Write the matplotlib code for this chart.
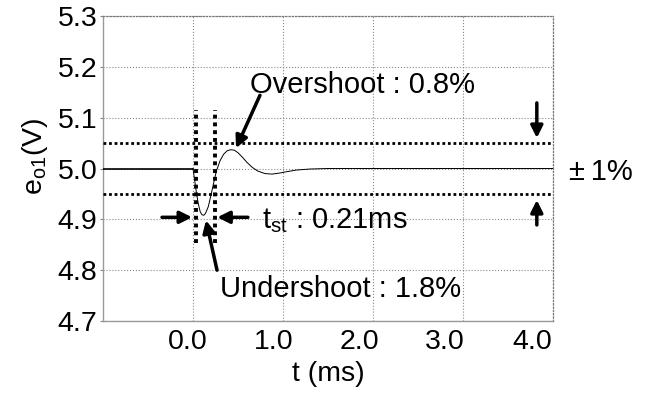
import matplotlib
matplotlib.use("Agg")
import matplotlib.pyplot as plt

plt.rcParams['font.family'] = ['Liberation Sans', 'DejaVu Sans']
plt.rcParams['mathtext.default'] = 'regular'

# step response e_o1 (V)
t_before = [-1.0, 0.0]
v_before = [5.0, 5.0]
t_resp = [0.0, 0.02, 0.04, 0.06, 0.08, 0.10, 0.12, 0.14, 0.17, 0.20, 0.23, 0.26, 0.30,
          0.34, 0.38, 0.42, 0.46, 0.50, 0.55, 0.60, 0.66, 0.72, 0.80, 0.88, 0.96,
          1.05, 1.15, 1.30, 1.50, 2.00, 3.00, 4.00]
v_resp = [5.0, 4.975, 4.950, 4.930, 4.915, 4.909, 4.908, 4.912, 4.925, 4.948, 4.972,
          4.995, 5.015, 5.028, 5.035, 5.037, 5.036, 5.031, 5.022, 5.012, 5.002, 4.995,
          4.990, 4.989, 4.991, 4.994, 4.997, 4.999, 5.0, 5.0, 5.0, 5.0]

band_hi = 5.05
band_lo = 4.95
settle_start = 0.03
settle_end = 0.24

x_grid = [0, 1, 2, 3, 4]
x_label_pos = [-0.056, 0.90, 1.85, 2.80, 3.77]
x_labels = ['0.0', '1.0', '2.0', '3.0', '4.0']
y_ticks = [4.7, 4.8, 4.9, 5.0, 5.1, 5.2, 5.3]
y_labels = ['4.7', '4.8', '4.9', '5.0', '5.1', '5.2', '5.3']

fig = plt.figure(figsize=(6.51, 3.97), dpi=100)
ax = fig.add_axes([0.1582, 0.1914, 0.6913, 0.7683])

ax.set_xlim(-1.0, 4.0)
ax.set_ylim(4.7, 5.3)

ax.set_xticks(x_grid, labels=[''] * len(x_grid))
ax.set_xticks(x_label_pos, labels=x_labels, minor=True)
ax.set_yticks(y_ticks, labels=y_labels)
ax.tick_params(axis='x', which='both', length=0, labelsize=20.5, pad=6)
ax.tick_params(axis='y', length=2, color='#888888', labelsize=20.5, pad=2)
ax.grid(True, which='major', linestyle=':', color='#888888', linewidth=0.8)

for side in ['left', 'bottom']:
    ax.spines[side].set_color('#999999')
    ax.spines[side].set_linewidth(1.0)
for side in ['top', 'right']:
    ax.spines[side].set_color('#777777')
    ax.spines[side].set_linestyle(':')
    ax.spines[side].set_linewidth(0.9)

# signal
ax.plot(t_before, v_before, color='black', lw=1.2, zorder=3)
ax.plot(t_resp, v_resp, color='black', lw=0.7, zorder=3)

# +-1% band and settling markers
ax.axhline(band_hi, color='black', lw=2.0, linestyle=(0, (1, 1)), zorder=4)
ax.axhline(band_lo, color='black', lw=2.0, linestyle=(0, (1, 1)), zorder=4)
ax.vlines([settle_start, settle_end], 4.853, 5.115, color='black', lw=2.8,
          linestyle=(0, (1, 1)), zorder=4)

arrow = dict(arrowstyle='-|>', lw=2.5, color='black', mutation_scale=18,
             shrinkA=0, shrinkB=0)

ax.annotate('', xy=(0.478, 5.040), xytext=(0.744, 5.144), arrowprops=arrow)
ax.text(0.633, 5.148, 'Overshoot : 0.8%', fontsize=21, va='baseline', ha='left')

ax.annotate('', xy=(0.144, 4.898), xytext=(0.267, 4.800), arrowprops=arrow)
ax.text(0.30, 4.747, 'Undershoot : 1.8%', fontsize=21, va='baseline', ha='left')

ax.annotate('', xy=(-0.01, 4.904), xytext=(-0.344, 4.904), arrowprops=arrow)
ax.annotate('', xy=(0.27, 4.904), xytext=(0.61, 4.904), arrowprops=arrow)
ax.text(0.767, 4.883, r't$_{st}$ : 0.21ms', fontsize=21, va='baseline', ha='left')

ax.annotate('', xy=(3.82, 5.060), xytext=(3.82, 5.129), arrowprops=arrow)
ax.annotate('', xy=(3.82, 4.938), xytext=(3.82, 4.889), arrowprops=arrow)

fig.text(601 / 651, 1 - 172 / 397, '\u00b1\u20091%', fontsize=21, ha='center', va='center')

ax.set_xlabel('t (ms)', fontsize=20.5, labelpad=4)
fig.text(35 / 651, 1 - 156 / 397, r'e$_{o1}$(V)', fontsize=20.5, rotation=90,
         ha='center', va='center')

fig.savefig('out.png', dpi=100)
